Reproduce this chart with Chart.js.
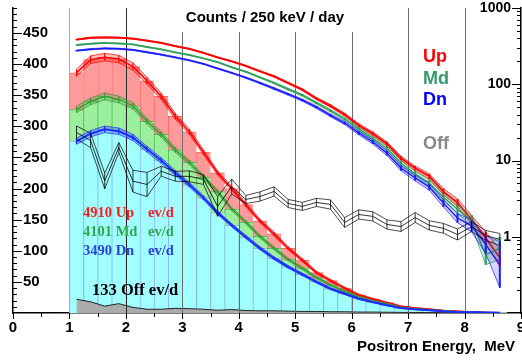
<!DOCTYPE html>
<html>
<head>
<meta charset="utf-8">
<script src="https://cdn.jsdelivr.net/npm/chart.js@4.4.1/dist/chart.umd.min.js"></script>
<style>
  html, body { margin: 0; padding: 0; background: #fff; }
  #wrap { width: 522px; height: 360px; }
</style>
</head>
<body>
<div id="wrap"><canvas id="chart" width="522" height="360"></canvas></div>
<script>
// 250 keV bins, centres in MeV
const binCenters = [1.125, 1.375, 1.625, 1.875, 2.125, 2.375, 2.625, 2.875, 3.125, 3.375, 3.625,
  3.875, 4.125, 4.375, 4.625, 4.875, 5.125, 5.375, 5.625, 5.875, 6.125, 6.375, 6.625, 6.875,
  7.125, 7.375, 7.625, 7.875, 8.125, 8.375, 8.625]

// counts / 250 keV / day
const upCounts = [386, 407, 411, 408, 396, 373, 348, 316, 291, 258, 225, 200, 174, 148, 127, 104,
  85, 65, 52, 40, 29, 22.5, 16.6, 10.7, 7.9, 6.2, 3.9, 2.8, 1.67, 0.96, 0.53]
const mdCounts = [327, 340, 348, 343, 333, 308, 287, 262, 242, 218, 195, 167, 146, 123, 104, 86,
  72, 57, 45, 35, 26, 19.5, 14.5, 9.2, 6.7, 5.05, 3.3, 2.3, 1.62, 0.58, 0.71]
const dnCounts = [276, 288, 295, 292, 282, 263, 245, 225, 206, 185, 161, 141, 122, 104, 88, 74,
  62, 50, 39, 31, 23, 17.5, 12.5, 7.95, 5.9, 4.48, 2.76, 1.76, 1.39, 0.79, 0.43]
const offCounts = [22, 18, 11, 15, 9, 6, 6, 7.5, 7, 6, 4.5, 5.5, 4, 3.5, 3.5, 3, 2.5, 2.5, 2, 2,
  1.5, 1.5, 1.2, 1, 0.8, 0.7, 0.6, 0.5, 0.4, 0.3, 0.3]

// error bands (multiplicative factors)
const upErr = [1.015, 1.015, 1.015, 1.015, 1.015, 1.015, 1.015, 1.015, 1.015, 1.015, 1.015, 1.015,
  1.02, 1.02, 1.025, 1.025, 1.03, 1.035, 1.04, 1.045, 1.05, 1.055, 1.06, 1.065, 1.07, 1.08, 1.1,
  1.12, 1.14, 1.2, 1.3]
const mdErr = [1.016, 1.016, 1.016, 1.016, 1.016, 1.016, 1.016, 1.016, 1.016, 1.016, 1.016, 1.016,
  1.02, 1.022, 1.025, 1.028, 1.032, 1.036, 1.04, 1.045, 1.05, 1.06, 1.07, 1.08, 1.08, 1.1, 1.12,
  1.14, 1.18, 1.35, 1.4]
const dnErr = [1.018, 1.018, 1.018, 1.018, 1.018, 1.018, 1.018, 1.018, 1.018, 1.018, 1.018, 1.018,
  1.022, 1.025, 1.028, 1.03, 1.034, 1.038, 1.042, 1.048, 1.055, 1.065, 1.075, 1.085, 1.09, 1.1,
  1.12, 1.15, 1.2, 1.31, 2.0]

// black curve on the log axis
const offRatio = [23.3, 18.3, 5.4, 14.8, 5.35, 4.85, 7.24, 6.2, 6.2, 5.64, 2.5, 4.56, 3.08, 3.37,
  3.93, 2.73, 2.5, 2.82, 2.65, 1.54, 1.96, 1.85, 1.45, 1.36, 1.79, 1.41, 1.29, 1.07, 1.36, 1.04, 0.92]
const offRatioErr = [1.22, 1.24, 1.27, 1.16, 1.39, 1.44, 1.16, 1.16, 1.18, 1.16, 1.35, 1.25, 1.13,
  1.15, 1.15, 1.13, 1.13, 1.13, 1.15, 1.16, 1.15, 1.15, 1.15, 1.16, 1.16, 1.15, 1.16, 1.18, 1.16,
  1.16, 1.2]

const xTickLabels = [0, 1, 2, 3, 4, 5, 6, 7, 8, 9]
const logTickLabels = [1, 10, 100, 1000]

const sans = '"Liberation Sans", Arial, sans-serif'
const serif = '"Liberation Serif", "Times New Roman", serif'

const datasets = []

const addBars = (vals, bg, border, order) => {
  datasets.push({
    type: 'bar',
    data: vals.map((v, i) => ({x: binCenters[i], y: v})),
    yAxisID: 'y',
    backgroundColor: bg,
    borderColor: border,
    borderWidth: {top: 1, left: 1, right: 0, bottom: 0},
    borderSkipped: false,
    grouped: false,
    barPercentage: 1,
    categoryPercentage: 1,
    order
  })
}

const addCurve = (vals, err, color, fillColor, axis, width, order, tickWidth) => {
  const loIndex = datasets.length
  const base = {type: 'line', yAxisID: axis, pointRadius: 0, tension: 0, order}
  datasets.push({...base, data: vals.map((v, i) => ({x: binCenters[i], y: v / err[i]})),
    borderColor: color, borderWidth: 0.7, fill: false})
  datasets.push({...base, data: vals.map((v, i) => ({x: binCenters[i], y: v * err[i]})),
    borderColor: color, borderWidth: 0.7,
    fill: fillColor ? {target: loIndex} : false, backgroundColor: fillColor || 'transparent'})
  datasets.push({...base, data: vals.map((v, i) => ({x: binCenters[i], y: v})),
    borderColor: color, borderWidth: width, fill: false, err, tickWidth})
}

addBars(upCounts, '#ff9a9a', '#ff6a6a', 20)
addBars(mdCounts, '#9cef9c', '#4cc04c', 19)
addBars(dnCounts, '#a0ffff', '#8fb0ff', 18)
datasets.push({
  type: 'line', yAxisID: 'y', order: 17, pointRadius: 0, tension: 0,
  data: offCounts.map((v, i) => ({x: binCenters[i], y: v})),
  borderColor: '#222', borderWidth: 1, backgroundColor: '#ababab', fill: 'origin', isOff: true
})

// curves over the histograms (linear axis)
addCurve(upCounts, upErr, '#ff0000', 'rgba(255,0,0,0.25)', 'y', 1.5, 12, 1.2)
addCurve(mdCounts, mdErr, '#3a9a3a', 'rgba(40,150,40,0.25)', 'y', 1.3, 11, 1.2)
addCurve(dnCounts, dnErr, '#1a2cff', 'rgba(40,60,255,0.3)', 'y', 2, 10, 1.2)

// same spectra on the log axis
addCurve(upCounts, upErr, '#ff0000', 'rgba(255,0,0,0.2)', 'y2', 1.8, 6, 2)
addCurve(mdCounts, mdErr, '#2f9e5c', 'rgba(40,160,90,0.2)', 'y2', 1.4, 5, 2)
addCurve(dnCounts, dnErr, '#1a1aff', 'rgba(30,30,255,0.18)', 'y2', 1.4, 4, 2)

// off curve, three black lines
addCurve(offRatio, offRatioErr, '#000', null, 'y2', 0.8, 1, 0.8)

const drawGrid = {
  id: 'drawGrid',
  afterDatasetDraw(chart, args) {
    if (!chart.data.datasets[args.index].isOff) return
    const {ctx, chartArea: a, scales: {x}} = chart
    ctx.save()
    ctx.lineWidth = 1
    for (let v = 1; v <= 8; v++) {
      const px = Math.round(x.getPixelForValue(v)) + 0.5
      ctx.strokeStyle = v === 1 ? '#a8a8a8' : v === 2 ? '#2a2a2a' : '#6e6e6e'
      ctx.beginPath()
      ctx.moveTo(px, a.top)
      ctx.lineTo(px, a.bottom)
      ctx.stroke()
    }
    // title box hides the grid behind the title
    ctx.fillStyle = '#fff'
    ctx.fillRect(176, a.top, 180, 24)
    ctx.restore()
  }
}

const errorTicks = {
  id: 'errorTicks',
  afterDatasetsDraw(chart) {
    const {ctx, chartArea: a} = chart
    ctx.save()
    ctx.beginPath()
    ctx.rect(a.left, a.top, a.right - a.left, a.bottom - a.top)
    ctx.clip()
    chart.data.datasets.forEach((ds, i) => {
      if (!ds.err) return
      const meta = chart.getDatasetMeta(i)
      const scale = chart.scales[ds.yAxisID]
      ctx.strokeStyle = ds.borderColor
      ctx.lineWidth = ds.tickWidth
      ctx.beginPath()
      meta.data.forEach((pt, j) => {
        const v = ds.data[j].y
        ctx.moveTo(pt.x, scale.getPixelForValue(v * ds.err[j]))
        ctx.lineTo(pt.x, scale.getPixelForValue(v / ds.err[j]))
      })
      ctx.stroke()
    })
    ctx.restore()
  }
}

const axisMarks = {
  id: 'axisMarks',
  afterDraw(chart) {
    const {ctx, chartArea: a, scales: {x, y, y2}} = chart
    ctx.save()
    ctx.strokeStyle = '#000'
    ctx.lineWidth = 1
    ctx.beginPath()
    for (let v = 0; v <= 9; v += 0.5) {
      const px = Math.round(x.getPixelForValue(v)) + 0.5
      ctx.moveTo(px, a.bottom)
      ctx.lineTo(px, a.bottom + (v % 1 === 0 ? 6 : 4))
    }
    for (let v = 10; v <= 490; v += 10) {
      const py = Math.round(y.getPixelForValue(v)) + 0.5
      ctx.moveTo(a.left, py)
      ctx.lineTo(a.left + (v % 50 === 0 ? 9 : 4), py)
    }
    for (let d = 0.1; d < 999; d *= 10) {
      for (let k = 1; k <= 9; k++) {
        const py = Math.round(y2.getPixelForValue(d * k)) + 0.5
        if (k === 1 && d < 0.5) continue
        ctx.moveTo(a.right, py)
        ctx.lineTo(a.right - (k === 1 ? 9 : 4), py)
      }
    }
    const top = Math.round(y2.getPixelForValue(1000)) + 0.5
    ctx.moveTo(a.right, top)
    ctx.lineTo(a.right - 9, top)
    ctx.stroke()

    // texts
    ctx.textBaseline = 'middle'
    ctx.fillStyle = '#000'
    ctx.font = 'bold 15px ' + sans
    ctx.textAlign = 'center'
    ctx.fillText('Counts / 250 keV / day', 265, 18)
    ctx.textAlign = 'left'
    ctx.fillText('Positron Energy,  MeV', 357, 347)

    ctx.font = 'bold 18px ' + sans
    ctx.fillStyle = '#ff0000'
    ctx.fillText('Up', 423, 57)
    ctx.fillStyle = '#339966'
    ctx.fillText('Md', 423, 79)
    ctx.fillStyle = '#0000ff'
    ctx.fillText('Dn', 423, 100)
    ctx.fillStyle = '#888888'
    ctx.fillText('Off', 423, 144)

    ctx.font = 'bold 14.5px ' + serif
    const rates = [['4910 Up', '#ff1a1a', 213], ['4101 Md', '#2fa84a', 232], ['3490 Dn', '#2a44d8', 251]]
    rates.forEach(([t, c, ty]) => {
      ctx.fillStyle = c
      ctx.fillText(t, 83, ty)
      ctx.fillText('ev/d', 148, ty)
    })
    ctx.fillStyle = '#000'
    ctx.font = 'bold 16.5px ' + serif
    ctx.fillText('133 Off ev/d', 92, 291)
    ctx.restore()
  }
}

const tickFont = {family: sans, size: 15, weight: 'bold'}

new Chart(document.getElementById('chart'), {
  data: {datasets},
  options: {
    responsive: false,
    animation: false,
    layout: {padding: {top: 8, left: 0, right: 0, bottom: 0}},
    plugins: {legend: {display: false}, tooltip: {enabled: false}},
    scales: {
      x: {
        type: 'linear', position: 'bottom', min: 0, max: 9, offset: false,
        grid: {display: false, drawTicks: false, offset: false},
        border: {color: '#000', width: 1.5},
        ticks: {
          stepSize: 0.5, autoSkip: false, maxRotation: 0, padding: 6, color: '#000', font: tickFont,
          callback: v => xTickLabels.includes(v) ? String(v) : ''
        },
        afterFit: s => { s.height = 47; s.paddingLeft = 0; s.paddingRight = 0 }
      },
      y: {
        type: 'linear', position: 'left', min: 0, max: 490,
        grid: {display: false, drawTicks: false},
        border: {color: '#000', width: 1.5},
        ticks: {
          stepSize: 50, mirror: true, padding: 10, color: '#000', font: tickFont, autoSkip: false,
          callback: v => (v > 0 && v % 50 === 0) ? String(v) : ''
        },
        afterFit: s => { s.width = 13; s.paddingTop = 0; s.paddingBottom = 0 }
      },
      y2: {
        type: 'logarithmic', position: 'right', min: 0.1, max: 1000,
        grid: {display: false, drawTicks: false},
        border: {color: '#000', width: 1.5},
        ticks: {
          mirror: true, padding: -10, color: '#000', autoSkip: false,
          font: {family: sans, size: 14, weight: 'bold'},
          callback: v => logTickLabels.includes(v) ? String(v) : ''
        },
        afterFit: s => { s.width = 1; s.paddingTop = 0; s.paddingBottom = 0 }
      }
    }
  },
  plugins: [drawGrid, errorTicks, axisMarks]
})
</script>
</body>
</html>
